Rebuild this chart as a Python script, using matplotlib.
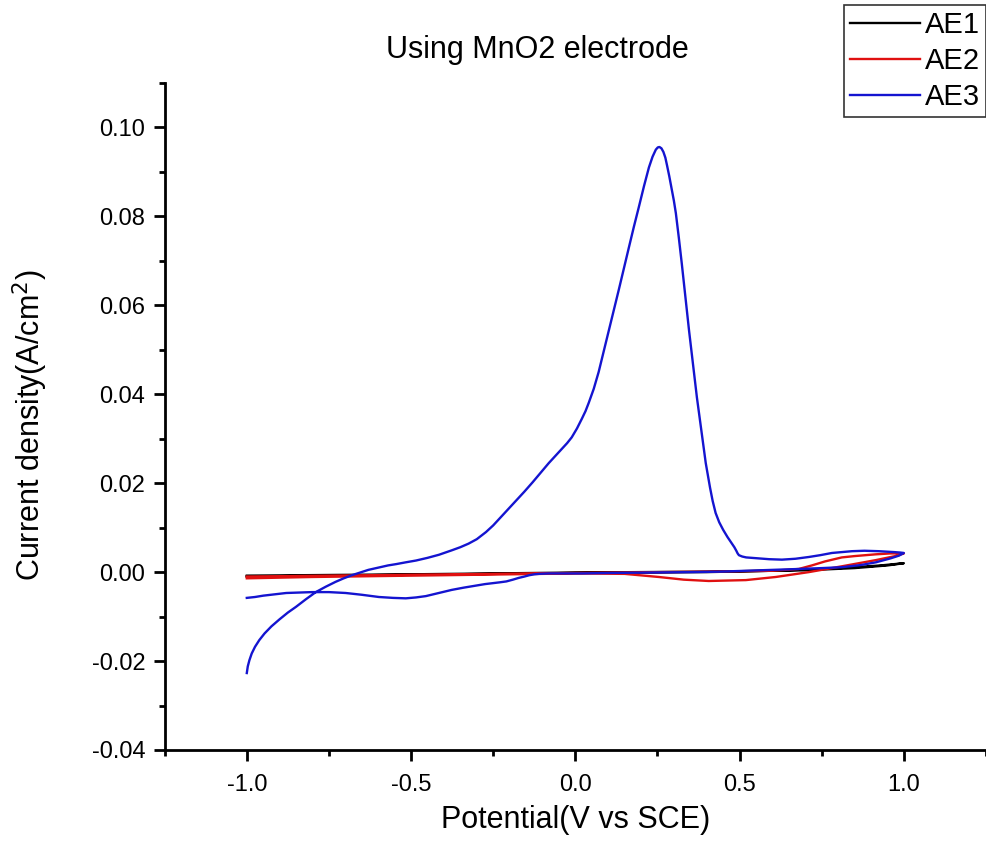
"""Cyclic voltammetry of AE1-AE3 on the MnO2 electrode."""

import matplotlib
matplotlib.use("Agg")
import matplotlib.pyplot as plt
from matplotlib.ticker import MultipleLocator

plt.rcParams["font.family"] = ["Liberation Sans", "DejaVu Sans"]

# AE1: forward sweep then return sweep
ae1_v = [-1.0, -0.5, 0.0, 0.4, 0.6, 0.75, 0.85, 0.93, 1.0,
         0.95, 0.85, 0.7, 0.4, 0.0, -0.5, -1.0]
ae1_j = [-0.0010, -0.0006, -0.0002, 0.0000, 0.0003, 0.0007, 0.0011, 0.0015, 0.0020,
         0.0015, 0.0009, 0.0004, 0.0001, -0.0001, -0.0005, -0.0008]

# AE2
ae2_v = [-1.0, -0.8, -0.5, -0.2, 0.0, 0.15, 0.254, 0.33, 0.406, 0.519, 0.61,
         0.711, 0.811, 0.915, 0.98, 1.0,
         0.96, 0.915, 0.85, 0.811, 0.76, 0.72, 0.68, 0.6, 0.4, 0.0, -0.5, -1.0]
ae2_j = [-0.0014, -0.0011, -0.0008, -0.0005, -0.0003, -0.0004, -0.0011, -0.0017,
         -0.0020, -0.0018, -0.0011, 0.0000, 0.0013, 0.0027, 0.0037, 0.0042,
         0.0042, 0.0040, 0.0036, 0.0033, 0.0024, 0.0015, 0.0007, 0.0003, 0.0001,
         -0.0002, -0.0006, -0.0010]

# AE3
ae3_v = [-1.000, -0.997, -0.992, -0.985, -0.975, -0.962, -0.946, -0.925, -0.90,
         -0.875, -0.85, -0.82, -0.79, -0.76, -0.73, -0.705, -0.68, -0.655, -0.63,
         -0.60, -0.57, -0.545, -0.516, -0.485, -0.45, -0.415, -0.376, -0.35, -0.325,
         -0.30, -0.272, -0.25, -0.23, -0.205, -0.181, -0.155, -0.13, -0.105,
         -0.081, -0.06, -0.04, -0.025, -0.011, 0.005, 0.02, 0.031, 0.041, 0.056,
         0.071, 0.085, 0.10, 0.116, 0.132, 0.148, 0.163, 0.178, 0.193, 0.209,
         0.224, 0.235, 0.245, 0.251, 0.256, 0.262, 0.268, 0.274, 0.279, 0.286,
         0.293, 0.300, 0.306, 0.315, 0.324, 0.335, 0.346, 0.358, 0.370, 0.384,
         0.397, 0.404, 0.410, 0.418, 0.427, 0.438, 0.45, 0.463, 0.476, 0.484,
         0.49, 0.494, 0.498, 0.508, 0.52, 0.538, 0.559, 0.59, 0.629, 0.67, 0.711,
         0.745, 0.781, 0.81, 0.842, 0.88, 0.924, 0.950, 0.970, 0.988, 1.000,
         0.985, 0.96, 0.94, 0.915, 0.87, 0.811, 0.75, 0.68, 0.60, 0.519, 0.44,
         0.355, 0.23, 0.10, 0.02, -0.05, -0.08, -0.111, -0.125, -0.14, -0.155,
         -0.172, -0.19, -0.21, -0.23, -0.254, -0.275, -0.30, -0.34, -0.376, -0.415,
         -0.455, -0.485, -0.516, -0.555, -0.598, -0.65, -0.699, -0.75, -0.802,
         -0.84, -0.88, -0.915, -0.95, -0.975, -1.000]
ae3_j = [-0.0227, -0.0212, -0.0198, -0.0183, -0.0168, -0.0153, -0.0138, -0.0122,
         -0.0106, -0.0091, -0.0078, -0.0061, -0.0045, -0.0033, -0.0022, -0.0014,
         -0.0007, -0.0001, 0.0005, 0.0010, 0.0015, 0.0018, 0.0022, 0.0026, 0.0032,
         0.0039, 0.0049, 0.0056, 0.0064, 0.0074, 0.0090, 0.0105, 0.0121, 0.0141,
         0.0160, 0.0181, 0.0202, 0.0224, 0.0245, 0.0262, 0.0278, 0.0290, 0.0303,
         0.0323, 0.0345, 0.0362, 0.0381, 0.0412, 0.0450, 0.0492, 0.0538, 0.0586,
         0.0634, 0.0683, 0.0730, 0.0776, 0.0820, 0.0868, 0.0910, 0.0934, 0.0950,
         0.0955, 0.0956, 0.0953, 0.0945, 0.0932, 0.0915, 0.0890, 0.0862, 0.0835,
         0.0807, 0.0752, 0.0694, 0.0618, 0.0544, 0.0468, 0.0393, 0.0316, 0.0245,
         0.0215, 0.0190, 0.0160, 0.0133, 0.0112, 0.0095, 0.0079, 0.0065, 0.0056,
         0.0048, 0.0042, 0.0038, 0.0035, 0.0033, 0.0032, 0.0031, 0.0029, 0.0028,
         0.0030, 0.0034, 0.0038, 0.0043, 0.0045, 0.0047, 0.0048, 0.0047, 0.0046,
         0.0045, 0.0044, 0.0043,
         0.0037, 0.0031, 0.0027, 0.0022, 0.0016, 0.0011, 0.0009, 0.0007, 0.0005,
         0.0003, 0.0001, 0.0000, -0.0001, -0.0002, -0.0003, -0.0003, -0.0003,
         -0.0004, -0.0005, -0.0007, -0.0010, -0.0013, -0.0017, -0.0021, -0.0023,
         -0.0025, -0.0027, -0.0030, -0.0035, -0.0040, -0.0047, -0.0054, -0.0057,
         -0.0059, -0.0058, -0.0056, -0.0051, -0.0047, -0.0045, -0.0045, -0.0046,
         -0.0047, -0.0050, -0.0053, -0.0056, -0.0058]

labels = ["AE1", "AE2", "AE3"]
colors = ["black", "#e01010", "#1414d0"]

fig = plt.figure(figsize=(9.86, 8.48), dpi=100)
ax = fig.add_axes([0.167, 0.1156, 0.833, 0.7866])

for v, j, lab, c in zip([ae1_v, ae2_v, ae3_v], [ae1_j, ae2_j, ae3_j], labels, colors):
    ax.plot(v, j, color=c, lw=1.7, label=lab)

ax.set_xlim(-1.25, 1.25)
ax.set_ylim(-0.04, 0.11)
ax.xaxis.set_major_locator(MultipleLocator(0.5))
ax.xaxis.set_minor_locator(MultipleLocator(0.25))
ax.yaxis.set_major_locator(MultipleLocator(0.02))
ax.yaxis.set_minor_locator(MultipleLocator(0.01))
ax.xaxis.set_major_formatter(lambda x, _: f"{x:.1f}")
ax.yaxis.set_major_formatter(lambda y, _: f"{y:.2f}")

for side in ("top", "right"):
    ax.spines[side].set_visible(False)
for side in ("left", "bottom"):
    ax.spines[side].set_linewidth(2)
ax.tick_params(which="major", length=8, width=2, labelsize=17, pad=6)
ax.tick_params(axis="x", which="major", pad=9)
ax.tick_params(which="minor", length=4.5, width=2)

ax.set_xlabel("Potential(V vs SCE)", fontsize=22)
ax.xaxis.set_label_coords(0.5, -0.083)
ax.set_ylabel("Current density(A/cm$^2$)", fontsize=22)
ax.yaxis.set_label_coords(-0.14, 0.487)

fig.text(0.545, 1 - 50 / 848, "Using MnO2 electrode", fontsize=22,
         ha="center", va="center")

leg = fig.legend(loc="upper right", bbox_to_anchor=(0.9995, 0.994), fontsize=21,
                 frameon=True, fancybox=False, borderpad=0.2, labelspacing=0.28,
                 handlelength=2.4, handletextpad=0.15, borderaxespad=0)
leg.get_frame().set_edgecolor("black")
leg.get_frame().set_linewidth(1.2)

fig.savefig("out.png", dpi=100)
plt.close(fig)
